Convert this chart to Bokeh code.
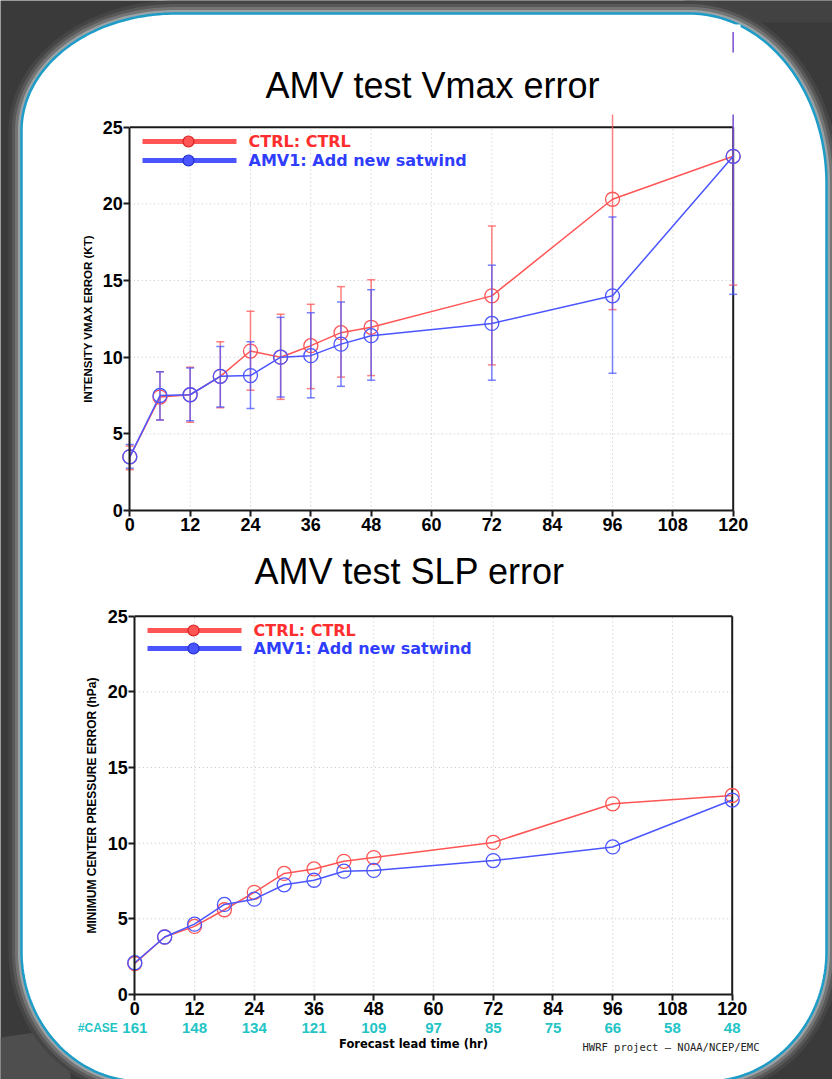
import numpy as np
from bokeh.plotting import figure
from bokeh.models import Range1d, LinearAxis, FixedTicker
from bokeh.core.properties import value
from bokeh.embed import file_html
from bokeh.resources import INLINE

# ---------------- data ----------------
lead = [0, 6, 12, 18, 24, 30, 36, 42, 48, 72, 96, 120]
series_names = ["CTRL: CTRL", "AMV1: Add new satwind"]

vmax_ctrl = [3.5, 7.4, 7.55, 8.75, 10.4, 10.0, 10.75, 11.6, 11.95, 14.0, 20.3, 23.1]
vmax_amv1 = [3.5, 7.5, 7.55, 8.75, 8.8, 10.0, 10.1, 10.85, 11.4, 12.2, 14.0, 23.1]
vmax_ctrl_lo = [2.65, 5.9, 5.75, 6.7, 7.85, 7.25, 7.95, 8.7, 8.8, 9.5, 13.1, 14.7]
vmax_ctrl_hi = [4.2, 9.05, 9.35, 11.0, 13.0, 12.8, 13.45, 14.6, 15.05, 18.55, 27.5, 31.3]
vmax_amv1_lo = [2.75, 5.9, 5.85, 6.75, 6.65, 7.4, 7.35, 8.1, 8.5, 8.5, 8.95, 14.1]
vmax_amv1_hi = [4.3, 9.05, 9.3, 10.7, 11.0, 12.6, 12.9, 13.6, 14.4, 16.0, 19.15, 31.4]

slp_ctrl = [2.05, 3.8, 4.5, 5.6, 6.75, 8.0, 8.3, 8.8, 9.05, 10.05, 12.6, 13.15]
slp_amv1 = [2.1, 3.8, 4.65, 5.95, 6.3, 7.25, 7.55, 8.15, 8.2, 8.85, 9.75, 12.85]

case_hours = [0, 12, 24, 36, 48, 60, 72, 84, 96, 108, 120]
case_counts = ["161", "148", "134", "121", "109", "97", "85", "75", "66", "58", "48"]

x_ticks = [0, 12, 24, 36, 48, 60, 72, 84, 96, 108, 120]
y_ticks = [0, 5, 10, 15, 20, 25]

titles = ["AMV test Vmax error", "AMV test SLP error"]
y_labels = ["INTENSITY VMAX ERROR (KT)", "MINIMUM CENTER PRESSURE ERROR (hPa)"]
x_label = "Forecast lead time (hr)"
credit = "HWRF project \u2013 NOAA/NCEP/EMC"

# ---------------- styling / layout ----------------
W, H = 832, 1079
BG = "#3a3a3a"
RED = "#ff5555"
BLUE = "#4a55ff"
RED_TXT = "#ff2e2e"
BLUE_TXT = "#2f3dff"
CYAN = "#22c4c6"
AXC = "#1a1a1a"

p = figure(width=W, height=H, x_range=Range1d(0, W), y_range=Range1d(H, 0),
           x_axis_type=None, y_axis_type=None, toolbar_location=None,
           output_backend="svg", min_border=0, outline_line_color=None,
           background_fill_color=BG, border_fill_color=BG)

# background decoration
p.patch([0, 70, 70, 0], [1037, 1027, 1079, 1079], fill_color="#4e4e4e", line_color=None)
p.patch([684, 832, 832, 684], [0, 0, 22, 22], fill_color="#424242", line_color=None)

PL, PT, PR, PB = 21, 13, 826, 1081
TLr, TRr, BRr, BLr = (154, 117), (137, 170), (120, 130), (120, 130)


def rounded(g=0.0, n=60):
    cs = [((PL + TLr[0], PT + TLr[1]), TLr, np.pi, 1.5 * np.pi),
          ((PR - TRr[0], PT + TRr[1]), TRr, 1.5 * np.pi, 2 * np.pi),
          ((PR - BRr[0], PB - BRr[1]), BRr, 0.0, 0.5 * np.pi),
          ((PL + BLr[0], PB - BLr[1]), BLr, 0.5 * np.pi, np.pi)]
    xs, ys = [], []
    for (cx, cy), (rx, ry), a0, a1 in cs:
        t = np.linspace(a0, a1, n)
        xs += list(cx + (rx + g) * np.cos(t))
        ys += list(cy + (ry + g) * np.sin(t))
    return xs, ys


for g, w, c in [(10, 6, "#454545"), (7, 5, "#585858"), (4.5, 4, "#747474"), (2, 3, "#9aa3a6")]:
    xs, ys = rounded(g)
    p.patch(xs, ys, fill_color=None, line_color=c, line_width=w)
xs, ys = rounded()
p.patch(xs, ys, fill_color="white", line_color="#1e9cc8", line_width=2.5)


def chart_ranges(x0px, x120px, y0px, y25px):
    ppx = (x120px - x0px) / 120.0
    ppy = (y0px - y25px) / 25.0
    xr = Range1d(-x0px / ppx, (W - x0px) / ppx)
    yr = Range1d(-(H - y0px) / ppy, y0px / ppy)
    return xr, yr


txr, tyr = chart_ranges(129.3, 732.7, 510.0, 126.7)
bxr, byr = chart_ranges(134.3, 731.7, 994.0, 615.7)
p.extra_x_ranges = {"tx": txr, "bx": bxr}
p.extra_y_ranges = {"ty": tyr, "by": byr}


def frame_and_axes(xn, yn, ylabel, ylabel_size):
    kw = dict(x_range_name=xn, y_range_name=yn)
    # dotted grid
    gx = x_ticks[1:-1]
    p.segment(x0=gx, y0=[0] * len(gx), x1=gx, y1=[25] * len(gx), line_color="#c4c4c4",
              line_width=1, line_dash="1 3", **kw)
    gy = y_ticks[1:-1]
    p.segment(x0=[0] * len(gy), y0=gy, x1=[120] * len(gy), y1=gy, line_color="#c4c4c4",
              line_width=1, line_dash="1 3", **kw)
    # top and right of the box
    p.segment(x0=[0, 120], y0=[25, 0], x1=[120, 120], y1=[25, 25], line_color=AXC,
              line_width=2, **kw)
    common = dict(axis_line_width=2, axis_line_color=AXC, major_tick_out=6, major_tick_in=0,
                  major_tick_line_width=2, major_tick_line_color=AXC,
                  minor_tick_out=0, minor_tick_in=0,
                  major_label_text_font="Liberation Sans", major_label_text_font_style="bold",
                  major_label_text_font_size="18px", major_label_text_color="black",
                  major_label_standoff=1)
    xa = LinearAxis(fixed_location=0, bounds=(0, 120), ticker=FixedTicker(ticks=x_ticks),
                    **common, **kw)
    p.add_layout(xa, "below")
    ya = LinearAxis(fixed_location=0, bounds=(0, 25), ticker=FixedTicker(ticks=y_ticks),
                    axis_label=ylabel, axis_label_text_font="Liberation Sans",
                    axis_label_text_font_style="bold", axis_label_text_font_size=ylabel_size,
                    axis_label_text_color="black", axis_label_standoff=5, **common, **kw)
    p.add_layout(ya, "left")


def series(xn, yn, ys, color, lo=None, hi=None):
    kw = dict(x_range_name=xn, y_range_name=yn)
    if lo is not None:
        p.segment(x0=lead, y0=lo, x1=lead, y1=hi, line_color=color, line_width=1.5,
                  line_alpha=0.75, **kw)
        p.scatter(x=lead + lead, y=list(lo) + list(hi), marker="dash", size=8,
                  line_color=color, line_width=1.5, line_alpha=0.75, **kw)
    p.line(x=lead, y=ys, line_color=color, line_width=1.5, **kw)
    p.scatter(x=lead, y=ys, marker="circle", size=14, fill_color=None, line_color=color,
              line_width=1.3, **kw)


def legend(x0, y0, dy):
    for i, (name, lc, tc, oc) in enumerate(zip(series_names, [RED, BLUE], [RED_TXT, BLUE_TXT],
                                               ["#d92020", "#2030d0"])):
        y = y0 + i * dy
        p.segment(x0=[x0], y0=[y], x1=[x0 + 94], y1=[y], line_color=lc, line_width=5)
        p.scatter(x=[x0 + 46], y=[y], marker="circle", size=11, fill_color=lc,
                  line_color=oc, line_width=1.2)
        p.text(x=[x0 + 106], y=[y], text=[name], text_font=value("DejaVu Sans"),
               text_font_style="bold", text_font_size="16px", text_color=tc,
               text_align="left", text_baseline="middle")


# ---------------- top chart ----------------
frame_and_axes("tx", "ty", y_labels[0], "11.5px")
series("tx", "ty", vmax_ctrl, RED, vmax_ctrl_lo, vmax_ctrl_hi)
series("tx", "ty", vmax_amv1, BLUE, vmax_amv1_lo, vmax_amv1_hi)
legend(142, 141, 19)
# slide title box and picture edge (cover the overflowing error bars)
p.quad(left=[236], right=[762], top=[52], bottom=[114], fill_color="white", line_color=None)
p.quad(left=[726], right=[740], top=[24], bottom=[31.5], fill_color="white", line_color=None)
p.text(x=[432], y=[85], text=[titles[0]], text_font=value("Liberation Sans"),
       text_font_size="36px", text_color="black", text_align="center", text_baseline="middle")

# ---------------- bottom chart ----------------
frame_and_axes("bx", "by", y_labels[1], "12px")
series("bx", "by", slp_ctrl, RED)
series("bx", "by", slp_amv1, BLUE)
legend(147, 630, 18)
p.text(x=[409], y=[571], text=[titles[1]], text_font=value("Liberation Sans"),
       text_font_size="36px", text_color="black", text_align="center", text_baseline="middle")

p.text(x=case_hours, y=[0] * len(case_hours), text=case_counts, x_range_name="bx",
       y_range_name="by", y_offset=33, text_font=value("Liberation Sans"),
       text_font_style="bold", text_font_size="15px", text_color=CYAN,
       text_align="center", text_baseline="middle")
p.text(x=[0], y=[0], text=["#CASE"], x_range_name="bx", y_range_name="by", x_offset=-17,
       y_offset=33, text_font=value("Liberation Sans"), text_font_style="bold",
       text_font_size="12px", text_color=CYAN, text_align="right", text_baseline="middle")
p.text(x=[413], y=[1043], text=[x_label], text_font=value("DejaVu Sans"),
       text_font_style="bold", text_font_size="11.5px", text_color="black",
       text_align="center", text_baseline="middle")
p.text(x=[582], y=[1046], text=[credit], text_font=value("DejaVu Sans Mono"),
       text_font_size="10.5px", text_color="#222222", text_align="left",
       text_baseline="middle")

open("out.html", "w").write(file_html(p, INLINE))
